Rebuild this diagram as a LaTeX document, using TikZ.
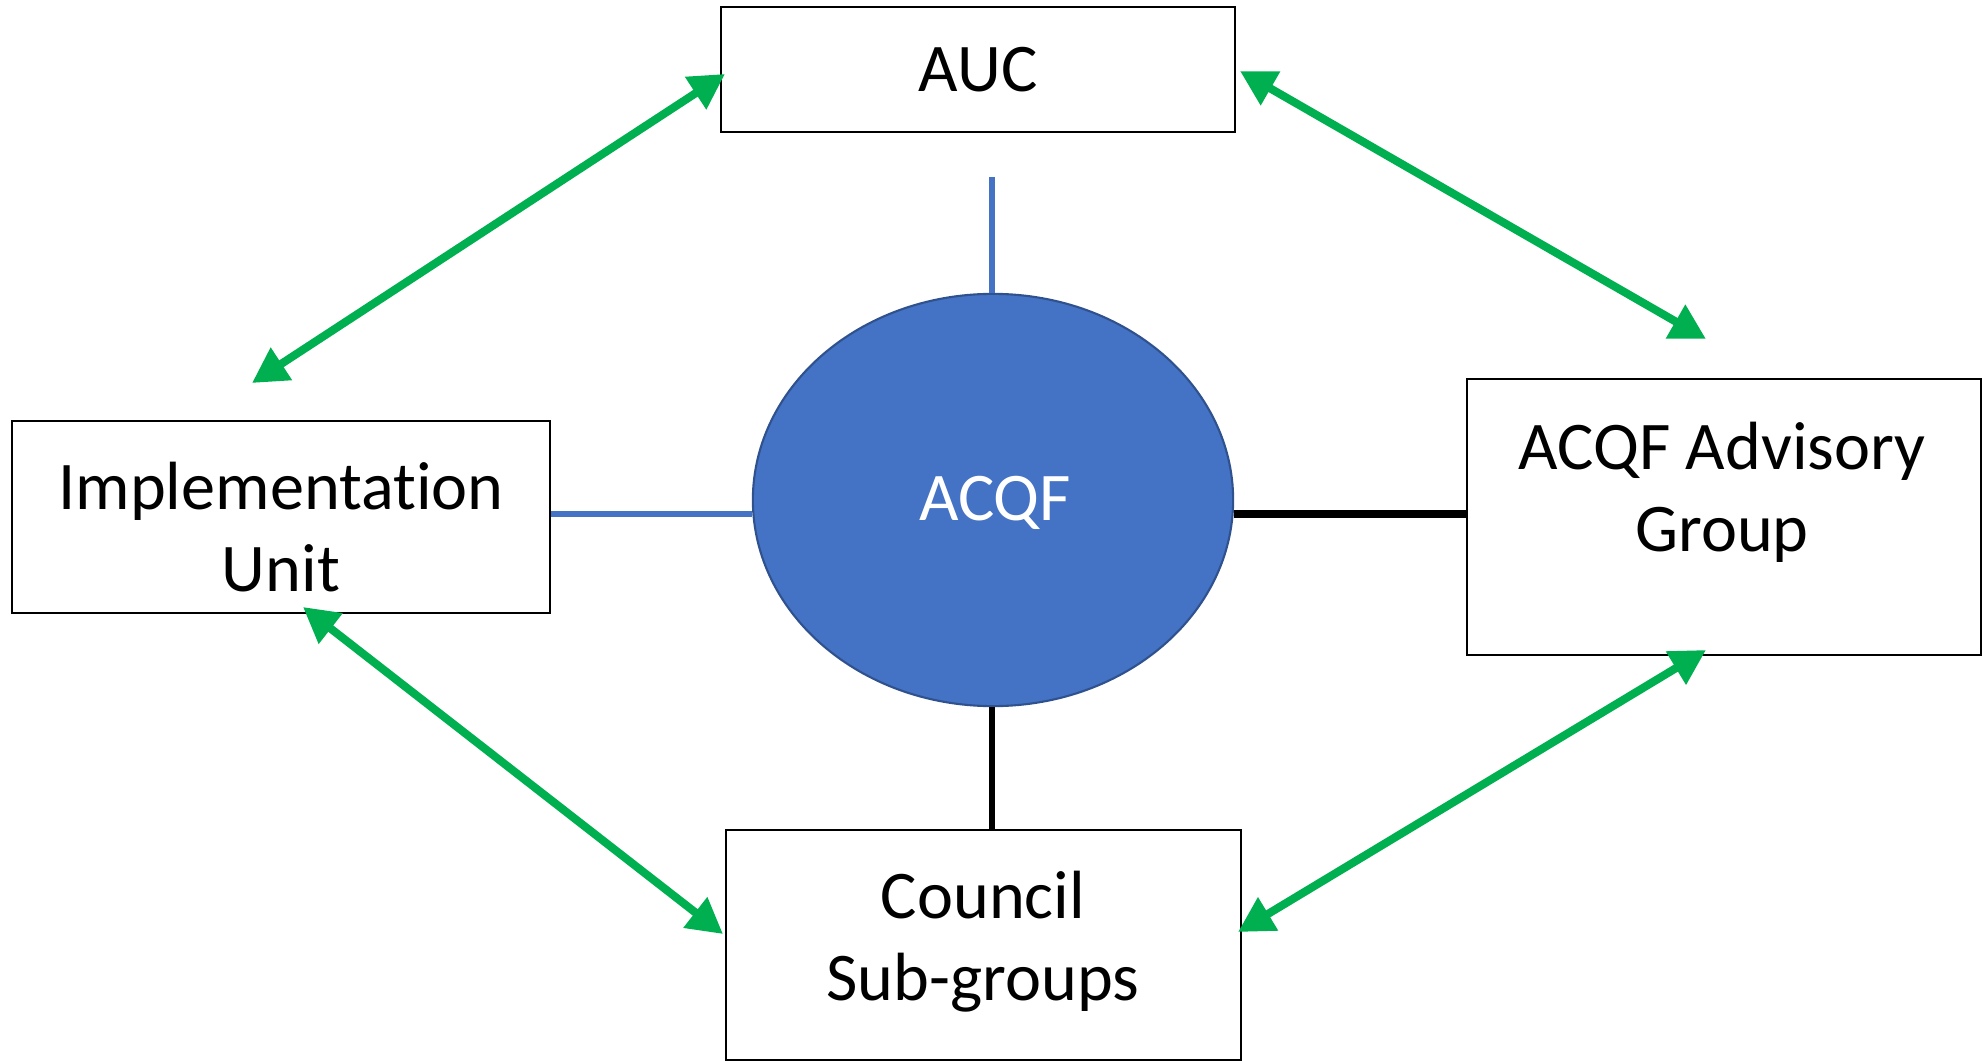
\documentclass[tikz,border=0pt]{standalone}
\usepackage{fontspec}
\setmainfont{Carlito}[Ligatures=NoCommon]
\usetikzlibrary{shapes.geometric,arrows.meta}
\definecolor{offblue}{HTML}{4472C4}
\definecolor{offblueedge}{HTML}{2F528F}
\definecolor{offgreen}{HTML}{00B050}
\begin{document}
\begin{tikzpicture}[x=0.01cm,y=-0.01cm,
  box/.style={draw=black,line width=0.6pt,fill=white,inner sep=0pt},
  lbl/.style={font=\fontsize{19.4}{23.3}\selectfont,align=center,inner sep=0pt},
  bluelink/.style={draw=offblue,line width=1.8pt},
  blacklink/.style={draw=black,line width=1.8pt},
  greenarrow/.style={draw=offgreen,line width=2.3pt,{Triangle[length=10pt,width=10.5pt]}-{Triangle[length=10pt,width=10.5pt]}}]
\useasboundingbox (0,0) rectangle (1982,1061);
% boxes
\node[box,minimum width=5.13cm,minimum height=1.25cm] (auc) at (978,69.5) {};
\node[lbl] (auct) at (978,70) {AUC};
\node[box,minimum width=5.37cm,minimum height=1.92cm] (impl) at (281,517) {};
\node[lbl] (implt) at (281,527) {Implementation\\Unit};
\node[box,minimum width=5.13cm,minimum height=2.76cm] (adv) at (1724,517) {};
\node[lbl] (advt) at (1722,492) {ACQF Advisory\\Group};
\node[box,minimum width=5.15cm,minimum height=2.30cm] (coun) at (983.5,945) {};
\node[lbl] (count) at (983,942) {Council\\Sub-groups};
% ellipse
\node[ellipse,draw=offblueedge,line width=0.6pt,fill=offblue,minimum width=4.80cm,minimum height=4.12cm,inner sep=0pt] (acqf) at (993,500) {};
\node[lbl,text=white] (acqft) at (995,503) {ACQF};
% links
\coordinate (topend) at (992,177);
\draw[bluelink] (topend) -- (acqf.north -| topend);
\draw[bluelink] (impl.east |- 0,514) -- (acqf.west |- 0,514);
\draw[blacklink,line width=2pt] (acqf.east |- 0,514) -- (adv.west |- 0,514);
\draw[blacklink] (acqf.south -| topend) -- (coun.north -| topend);
% green arrows
\coordinate (a1s) at (252,383);
\coordinate (a1e) at (725,74);
\coordinate (a2s) at (1240,71);
\coordinate (a2e) at (1706,339);
\coordinate (a3s) at (303,607);
\coordinate (a3e) at (723,934);
\coordinate (a4s) at (1706,650);
\coordinate (a4e) at (1238,932);
\draw[greenarrow] (a1s) -- (a1e);
\draw[greenarrow] (a2s) -- (a2e);
\draw[greenarrow] (a3s) -- (a3e);
\draw[greenarrow] (a4s) -- (a4e);
\end{tikzpicture}
\end{document}
